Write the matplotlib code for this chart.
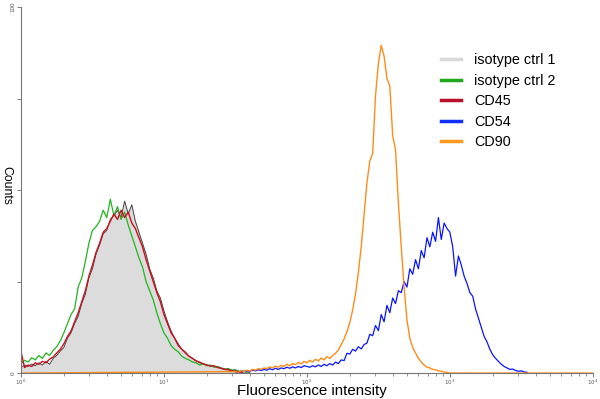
import matplotlib
matplotlib.use('Agg')

import numpy as np
import matplotlib.pyplot as plt
from matplotlib.lines import Line2D

plt.rcParams['font.family'] = ['Liberation Sans', 'DejaVu Sans']

# histogram channels (log10 of intensity) for the isotype/CD45 group
iso_start, iso_step = 0.0, 0.025
iso1 = [1.5, 2.2, 1.8, 2.5, 2.0, 2.8, 2.2, 3.2, 2.4, 4.0, 4.8, 6.0, 7.0, 9.5, 11.0, 13.5,
        15.5, 19.0, 21.5, 26.0, 28.5, 32.5, 35.0, 38.0, 39.0, 42.0, 43.0, 44.5, 42.5, 47.0,
        43.5, 46.0, 41.5, 38.5, 35.5, 32.5, 28.5, 26.0, 22.5, 20.5, 17.0, 14.0, 11.5, 9.5,
        8.0, 6.5, 5.8, 4.6, 4.0, 3.4, 2.8, 2.6, 2.2, 2.0, 1.7, 1.8, 1.4, 1.1, 1.2, 0.8,
        0.9, 0.5, 0.6, 0.3, 0.2]
iso2 = [2.5, 3.5, 3.0, 4.2, 3.6, 4.8, 4.0, 5.5, 4.8, 6.2, 7.2, 8.8, 11.0, 13.5, 16.0, 17.5,
        23.5, 26.0, 30.5, 35.5, 39.0, 40.0, 41.5, 44.5, 42.5, 47.5, 43.0, 45.5, 42.0, 44.0,
        40.5, 37.5, 34.5, 31.5, 29.0, 25.0, 22.5, 20.0, 16.5, 13.5, 11.0, 9.5, 7.5, 6.5,
        5.8, 4.6, 4.0, 3.6, 3.0, 2.8, 2.2, 2.5, 2.0, 2.2, 1.6, 1.8, 1.3, 1.0, 1.2, 0.7,
        0.8, 0.4, 0.5, 0.2]
cd45 = [5.8, 1.5, 2.2, 1.8, 2.8, 2.4, 3.2, 2.8, 3.8, 4.4, 5.5, 6.5, 8.0, 10.0, 11.5, 14.0,
        16.5, 19.5, 22.5, 26.5, 29.5, 33.0, 35.5, 38.5, 39.5, 41.5, 43.5, 42.0, 44.5, 42.5,
        44.0, 41.0, 39.5, 37.0, 34.5, 31.0, 28.0, 25.0, 22.0, 19.5, 16.0, 13.5, 11.0, 9.5,
        7.5, 6.5, 5.5, 4.6, 4.0, 3.3, 3.0, 2.5, 2.2, 1.9, 2.0, 1.5, 1.3, 1.0, 0.9, 0.6,
        0.5, 0.3, 0.2]

# CD54 / CD90 channels
pos_start, pos_step = 1.5, 0.02
cd54 = [0.3, 0.2, 0.5, 0.4, 0.6, 0.5, 0.8, 0.6, 0.9, 0.7, 1.0, 0.8, 1.2, 0.9, 1.3, 1.0,
        1.4, 1.2, 1.6, 1.3, 1.7, 1.4, 1.8, 1.5, 2.0, 1.8, 1.6, 2.0, 1.7, 2.2, 1.8, 2.4,
        2.0, 2.6, 2.2, 3.0, 2.6, 3.6, 3.4, 5.4, 5.2, 6.5, 6.0, 7.2, 6.6, 7.8, 8.2, 10.6,
        10.2, 13.0, 11.6, 16.0, 14.0, 18.5, 16.5, 20.5, 19.0, 22.5, 22.0, 25.0, 23.5, 28.5,
        27.0, 31.0, 28.5, 33.5, 31.5, 37.0, 34.5, 38.5, 36.0, 42.5, 36.5, 41.0, 39.5, 38.5,
        34.5, 26.5, 32.0, 29.5, 26.5, 24.5, 22.0, 21.0, 17.5, 15.0, 12.5, 10.0, 8.5, 6.5,
        5.0, 4.0, 3.2, 2.4, 1.8, 1.4, 1.0, 1.1, 0.7, 0.5, 0.6, 0.3, 0.2]
cd90 = [0.4, 0.2, 0.6, 0.4, 0.8, 0.6, 1.0, 0.8, 1.2, 1.0, 1.4, 1.2, 1.7, 1.4, 1.9, 1.6,
        2.1, 1.8, 2.4, 2.0, 2.6, 2.3, 2.9, 2.5, 3.2, 2.8, 3.5, 3.0, 3.8, 3.3, 4.1, 3.6,
        4.5, 4.0, 4.8, 5.4, 6.3, 7.8, 9.3, 11.3, 13.8, 17.2, 21.6, 27.5, 34.5, 43.3, 52.0,
        58.0, 60.0, 75.8, 84.6, 89.6, 86.6, 80.5, 78.5, 65.0, 61.0, 46.5, 34.5, 23.5, 14.5,
        9.5, 7.0, 5.5, 4.0, 3.0, 2.2, 1.6, 1.4, 1.0, 0.9, 0.6, 0.5, 0.3, 0.2, 0.0]

colors = {'isotype ctrl 1': '#d9d9d9', 'isotype ctrl 2': '#1fa81f', 'CD45': '#b8102a',
          'CD54': '#1030ff', 'CD90': '#ff9a1f'}


def channels(start, step, counts):
    return 10 ** (start + step * np.arange(len(counts)))


fig = plt.figure(figsize=(6, 3.99), dpi=100)
ax = fig.add_axes([0.035, 0.065, 0.953, 0.917])

x1 = channels(iso_start, iso_step, iso1)
ax.fill_between(x1, iso1, color='#dcdcdc', lw=0)
ax.plot(x1, iso1, color='#444444', lw=0.7)
ax.plot(channels(iso_start, iso_step, iso2), iso2, color='#22b422', lw=0.9)
ax.plot(channels(iso_start, iso_step, cd45), cd45, color='#c8101e', lw=1.0)
ax.plot(channels(pos_start, pos_step, cd54), cd54, color='#0a14ff', lw=0.9)
x90 = np.concatenate([[1.0], channels(pos_start, pos_step, cd90), [1e4]])
ax.plot(x90, [0.0] + cd90 + [0.0], color='#ff8c1a', lw=1.0)

ax.set_xscale('log')
ax.set_xlim(1, 1e4)
ax.set_ylim(0, 100)
ax.set_yticks([0, 25, 50, 75, 100])
ax.set_yticklabels(['0', '', '', '', '100'], rotation=90, va='center', fontsize=4.5, color='#555555')
ax.set_xticks([1, 10, 100, 1000, 10000])
ax.set_xticklabels(['$10^0$', '$10^1$', '$10^2$', '$10^3$', '$10^4$'], fontsize=4, color='#555555')
ax.tick_params(axis='both', which='major', length=3, width=0.6, color='#666666', pad=1)
ax.tick_params(axis='x', which='major', pad=0.5)
ax.tick_params(axis='x', which='minor', length=2, width=0.5, color='#666666')
ax.xaxis.set_minor_formatter(matplotlib.ticker.NullFormatter())
for s in ['top', 'right']:
    ax.spines[s].set_visible(False)
for s in ['left', 'bottom']:
    ax.spines[s].set_color('#777777')
    ax.spines[s].set_linewidth(0.8)

# axis titles placed by hand, the plot area reaches almost to the edges
fig.text(312 / 600, 1 - 391 / 399, 'Fluorescence intensity', ha='center', va='center', fontsize=10.8)
# "Counts" reads top-to-bottom in the original
fig.text(6 / 600, 1 - 185 / 399, 'Counts', rotation=270, ha='center', va='center', fontsize=8.8)

handles = [Line2D([0], [0], color=c, lw=2.5) for c in colors.values()]
ax.legend(handles, list(colors.keys()), loc='upper left', bbox_to_anchor=(0.711, 0.91),
          frameon=False, fontsize=10.4, handlelength=1.4, labelspacing=0.45, handletextpad=0.95)

fig.savefig('out.png', dpi=100)
